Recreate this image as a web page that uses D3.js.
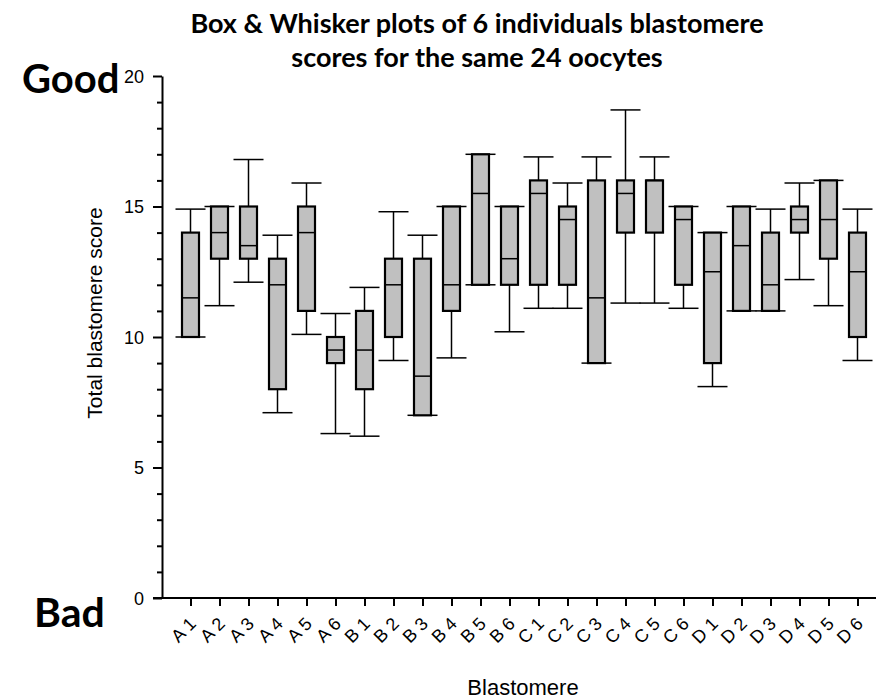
<!DOCTYPE html>
<html>
<head>
<meta charset="utf-8">
<script src="https://cdn.jsdelivr.net/npm/d3@7"></script>
<style>
  body { margin: 0; background: #fff; }
  svg { display: block; }
</style>
</head>
<body>
<div id="chart"></div>
<script>
// Box & whisker data
var categories = ["A 1","A 2","A 3","A 4","A 5","A 6",
                  "B 1","B 2","B 3","B 4","B 5","B 6",
                  "C 1","C 2","C 3","C 4","C 5","C 6",
                  "D 1","D 2","D 3","D 4","D 5","D 6"];
var minVals = [10, 11.2, 12.1, 7.1, 10.1, 6.3,
               6.2, 9.1, 7, 9.2, 12, 10.2,
               11.1, 11.1, 9, 11.3, 11.3, 11.1,
               8.1, 11, 11, 12.2, 11.2, 9.1];
var q1Vals = [10, 13, 13, 8, 11, 9,
              8, 10, 7, 11, 12, 12,
              12, 12, 9, 14, 14, 12,
              9, 11, 11, 14, 13, 10];
var medVals = [11.5, 14, 13.5, 12, 14, 9.5,
               9.5, 12, 8.5, 12, 15.5, 13,
               15.5, 14.5, 11.5, 15.5, 16, 14.5,
               12.5, 13.5, 12, 14.5, 14.5, 12.5];
var q3Vals = [14, 15, 15, 13, 15, 10,
              11, 13, 13, 15, 17, 15,
              16, 15, 16, 16, 16, 15,
              14, 15, 14, 15, 16, 14];
var maxVals = [14.9, 15, 16.8, 13.9, 15.9, 10.9,
               11.9, 14.8, 13.9, 15, 17, 15,
               16.9, 15.9, 16.9, 18.7, 16.9, 15,
               14, 15, 14.9, 15.9, 16, 14.9];
var yTicks = [0, 5, 10, 15, 20];

var width = 879, height = 699;

var svg = d3.select("#chart")
    .append("svg")
    .attr("width", width)
    .attr("height", height);

var x = d3.scalePoint().domain(categories).range([190.5, 857.5]);
var y = d3.scaleLinear().domain([0, 20]).range([598, 76]);

var boxes = categories.map(function(c, i) {
    return { name: c, min: minVals[i], q1: q1Vals[i], med: medVals[i], q3: q3Vals[i], max: maxVals[i] };
});

// Title
var title = svg.append("text")
    .attr("text-anchor", "middle")
    .style("font-family", "Lato, 'Open Sans', sans-serif")
    .style("font-weight", "bold")
    .style("font-size", "27px");
title.append("tspan").attr("x", 477).attr("y", 33).text("Box & Whisker plots of 6 individuals blastomere");
title.append("tspan").attr("x", 477).attr("y", 67).text("scores for the same 24 oocytes");

// Good / Bad
svg.append("text")
    .attr("x", 22).attr("y", 93)
    .style("font-family", "Lato, sans-serif")
    .style("font-weight", "bold")
    .style("font-size", "40px")
    .text("Good");
svg.append("text")
    .attr("x", 34).attr("y", 627)
    .style("font-family", "Lato, sans-serif")
    .style("font-weight", "bold")
    .style("font-size", "41px")
    .text("Bad");

// y axis
var yAxis = svg.append("g")
    .attr("transform", "translate(162,0)")
    .call(d3.axisLeft(y).tickValues(yTicks).tickSize(9).tickSizeOuter(0).tickPadding(9));
svg.append("g")
    .attr("transform", "translate(162,0)")
    .call(d3.axisLeft(y).tickValues(d3.range(0, 21).filter(function(v) { return v % 5 !== 0; }))
        .tickSize(5).tickSizeOuter(0).tickFormat(""))
    .select(".domain").remove();
yAxis.selectAll("text")
    .style("font-family", "'Liberation Sans', Arial, sans-serif")
    .style("font-size", "18px")
    .attr("dy", "0.36em");

// x axis
var xAxis = svg.append("g")
    .attr("transform", "translate(0,598)")
    .call(d3.axisBottom(x).tickSize(8).tickSizeOuter(0));
xAxis.select(".domain").attr("d", "M153,0H876");
xAxis.selectAll("text")
    .style("font-family", "'Liberation Sans', Arial, sans-serif")
    .style("font-size", "18px")
    .attr("text-anchor", "end")
    .attr("x", 0).attr("y", 0).attr("dy", 0)
    .attr("transform", "translate(6,27) rotate(-45)");

svg.selectAll(".domain, .tick line").attr("stroke", "#000").attr("stroke-width", 2);

// axis titles
svg.append("text")
    .attr("text-anchor", "middle")
    .attr("transform", "translate(102,313) rotate(-90)")
    .style("font-family", "'Liberation Sans', Arial, sans-serif")
    .style("font-size", "21px")
    .text("Total blastomere score");
svg.append("text")
    .attr("text-anchor", "middle")
    .attr("x", 523).attr("y", 695)
    .style("font-family", "'Liberation Sans', Arial, sans-serif")
    .style("font-size", "22px")
    .text("Blastomere");

// boxes
var g = svg.selectAll(".box").data(boxes).enter().append("g").attr("class", "box");

g.append("line")
    .attr("x1", function(d) { return x(d.name); })
    .attr("x2", function(d) { return x(d.name); })
    .attr("y1", function(d) { return y(d.max); })
    .attr("y2", function(d) { return y(d.min); })
    .attr("stroke", "#000").attr("stroke-width", 1.5);

g.selectAll(".cap")
    .data(function(d) { return [{ name: d.name, v: d.min }, { name: d.name, v: d.max }]; })
    .enter().append("line")
    .attr("x1", function(d) { return x(d.name) - 15; })
    .attr("x2", function(d) { return x(d.name) + 15; })
    .attr("y1", function(d) { return y(d.v); })
    .attr("y2", function(d) { return y(d.v); })
    .attr("stroke", "#000").attr("stroke-width", 1.5);

g.append("rect")
    .attr("x", function(d) { return x(d.name) - 8.5; })
    .attr("width", 17)
    .attr("y", function(d) { return y(d.q3); })
    .attr("height", function(d) { return y(d.q1) - y(d.q3); })
    .attr("fill", "#c0c0c0")
    .attr("stroke", "#000").attr("stroke-width", 2.2);

g.append("line")
    .attr("x1", function(d) { return x(d.name) - 8.5; })
    .attr("x2", function(d) { return x(d.name) + 8.5; })
    .attr("y1", function(d) { return y(d.med); })
    .attr("y2", function(d) { return y(d.med); })
    .attr("stroke", "#000").attr("stroke-width", 1.5);
</script>
</body>
</html>
